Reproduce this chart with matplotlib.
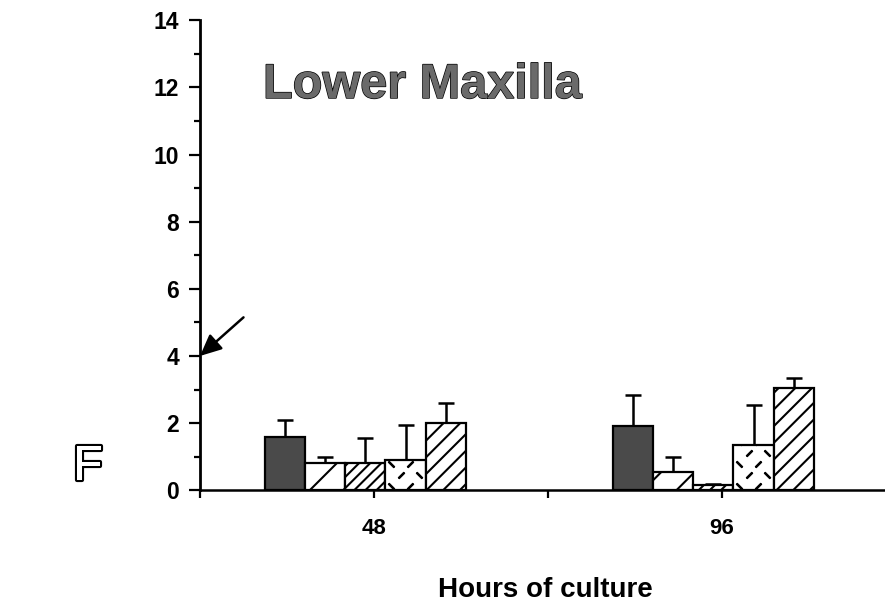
import numpy as np
import matplotlib.pyplot as plt
import matplotlib.patheffects as pe

plt.rcParams['font.family'] = ['Liberation Sans', 'DejaVu Sans']
plt.rcParams['hatch.linewidth'] = 1.5

# valori (medie si eroare superioara)
hours = [48, 96]
means_48 = [1.6, 0.8, 0.8, 0.9, 2.0]
err_48 = [0.5, 0.2, 0.75, 1.05, 0.6]
means_96 = [1.9, 0.55, 0.15, 1.35, 3.05]
err_96 = [0.95, 0.45, 0.05, 1.2, 0.3]
y_ticks = [0, 2, 4, 6, 8, 10, 12, 14]

# stilul fiecarei bare din grup
faces = ['#4a4a4a', 'white', 'white', 'white', 'white']
hatches = [None, '/', '///', None, '//']

fig = plt.figure(figsize=(8.85, 6.06), dpi=100)
ax = fig.add_axes([0.226, 0.191, 0.7864, 0.7756])

bar_w = 5.55
offsets = (np.arange(5) - 2) * bar_w - 1.2

for h, means, errs in zip(hours, [means_48, means_96], [err_48, err_96]):
    xs = h + offsets
    bars = ax.bar(xs, means, width=bar_w, color=faces, edgecolor='black',
                  linewidth=1.6, zorder=2)
    for b, hatch in zip(bars, hatches):
        if hatch:
            b.set_hatch(hatch)
    ax.errorbar(xs, means, yerr=[np.zeros(5), errs], fmt='none', ecolor='black',
                elinewidth=1.8, capsize=6, capthick=1.8, zorder=1)

    # bara 4: model de liniute scurte
    b4 = bars[3]
    x0, x1 = b4.get_x(), b4.get_x() + b4.get_width()
    top = b4.get_height()
    row = 0
    for yy in np.arange(0.12, top + 0.3, 0.33):
        start = x0 + (0.8 if row % 2 == 0 else 2.1)
        for k, xx in enumerate(np.arange(start, x1, 2.6)):
            ang = 45 if (row + k) % 2 == 0 else -45
            ln, = ax.plot(xx, yy, linestyle='none', marker=(2, 2, ang),
                          markersize=6, mew=1.6, color='black', zorder=3)
            ln.set_clip_path(b4)
        row += 1

ax.set_xlim(24, 120)
ax.set_ylim(0, 14)
ax.set_xticks([24, 48, 72, 96])
ax.set_xticklabels(['', '48', '', '96'], fontweight='bold')
ax.set_yticks(y_ticks)
ax.set_yticklabels([str(v) for v in y_ticks], fontweight='bold')
ax.set_yticks(range(1, 14, 2), minor=True)

ax.tick_params(axis='x', direction='out', length=6, width=1.6, pad=14, labelsize=16)
ax.tick_params(axis='y', which='major', length=8, width=1.6, pad=7, labelsize=16.5)
ax.tick_params(axis='y', which='minor', length=4, width=1.6)

for s in ['top', 'right']:
    ax.spines[s].set_visible(False)
ax.spines['left'].set_linewidth(2.0)
ax.spines['bottom'].set_linewidth(1.8)

# sageata spre valoarea 4
ax.annotate('', xy=(24, 4), xytext=(30, 5.15),
            arrowprops=dict(arrowstyle='-|>,head_length=1.3,head_width=0.6',
                            color='black', lw=1.8, shrinkA=0, shrinkB=0),
            annotation_clip=False)

fig.text(263 / 885, 1 - 98 / 606, 'Lower Maxilla', fontsize=35, weight='bold',
         color='#6a6a6a', ha='left', va='baseline',
         path_effects=[pe.withStroke(linewidth=1.0, foreground='black')])
fig.text(545 / 885, 1 - 590 / 606, 'Hours of culture', fontsize=20,
         weight='bold', ha='center', va='center')
fig.text(88 / 885, 1 - 467 / 606, 'F', fontsize=35, color='white',
         ha='center', va='center',
         path_effects=[pe.withStroke(linewidth=3, foreground='black')])

fig.savefig('out.png', dpi=100)
